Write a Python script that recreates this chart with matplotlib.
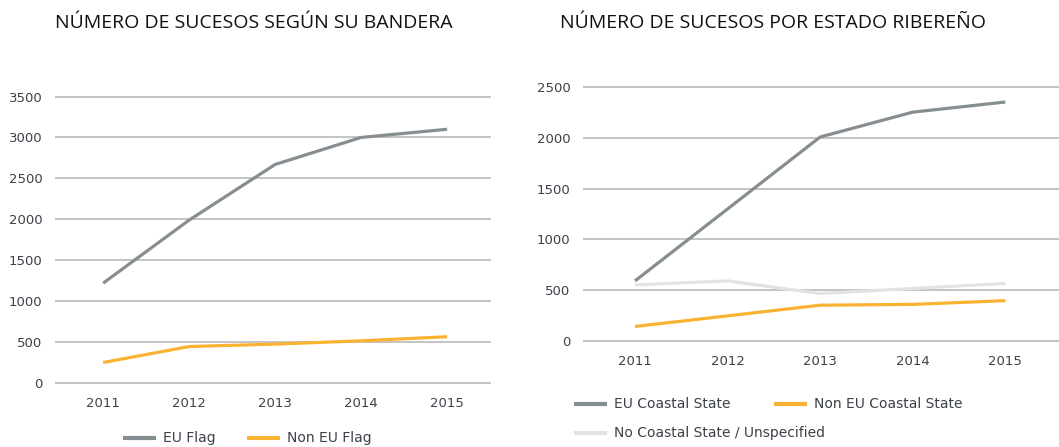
import matplotlib.pyplot as plt
from matplotlib.lines import Line2D

# datos
years = ["2011", "2012", "2013", "2014", "2015"]

eu_flag = [1220, 1990, 2670, 3000, 3100]
non_eu_flag = [250, 445, 475, 515, 565]

eu_coastal = [590, 1300, 2010, 2255, 2355]
non_eu_coastal = [140, 245, 350, 358, 395]
no_coastal = [550, 590, 465, 515, 565]

GRAY = "#868e92"
ORANGE = "#f9b231"
LIGHT = "#e3e3e3"
GRID = "#b4b4b4"
TICK = "#3c4048"
SMALL = ['DejaVu Sans']

plt.rcParams['font.family'] = ['Open Sans', 'DejaVu Sans']

W, H = 1059, 447
fig = plt.figure(figsize=(W / 100, H / 100), dpi=100)


def style_axis(ax, ymax, step):
    ax.set_yticks(range(0, ymax + 1, step))
    ax.yaxis.grid(True, color=GRID, linewidth=1.1)
    ax.set_axisbelow(True)
    for s in ax.spines.values():
        s.set_visible(False)
    ax.tick_params(axis='both', length=0, labelsize=9.5, labelcolor=TICK)
    ax.tick_params(axis='y', pad=9)
    ax.tick_params(axis='x', pad=9)
    ax.set_xticks(range(len(years)))
    ax.set_xticklabels(years)
    for lab in ax.get_xticklabels() + ax.get_yticklabels():
        lab.set_family(SMALL)


# grafico izquierdo
ax1 = fig.add_axes([55 / W, 1 - 384.6 / H, (491 - 55) / W, (384.6 - 94.9) / H])
x = range(len(years))
ax1.plot(x, eu_flag, color=GRAY, lw=2.3, solid_capstyle='butt')
ax1.plot(x, non_eu_flag, color=ORANGE, lw=2.3, solid_capstyle='butt')
ax1.set_xlim(-0.56, 4.51)
ax1.set_ylim(-20, 3520)
style_axis(ax1, 3500, 500)

# grafico derecho
ax2 = fig.add_axes([583 / W, 1 - 342.7 / H, (W - 583) / W, (342.7 - 85.3) / H])
ax2.plot(x, no_coastal, color=LIGHT, lw=2.3, solid_capstyle='butt')
ax2.plot(x, eu_coastal, color=GRAY, lw=2.3, solid_capstyle='butt')
ax2.plot(x, non_eu_coastal, color=ORANGE, lw=2.3, solid_capstyle='butt')
ax2.set_xlim(-0.562, 4.58)
ax2.set_ylim(-20, 2520)
style_axis(ax2, 2500, 500)

# titulos
fig.text(254 / W, 1 - 23 / H, "NÚMERO DE SUCESOS SEGÚN SU BANDERA",
         ha='center', va='center', fontsize=14, color='#111111')
fig.text(773 / W, 1 - 23 / H, "NÚMERO DE SUCESOS POR ESTADO RIBEREÑO",
         ha='center', va='center', fontsize=14, color='#111111')


def legend_item(x0, y0, color, label):
    fig.add_artist(Line2D([x0 / W, (x0 + 33) / W], [1 - y0 / H, 1 - y0 / H],
                          color=color, lw=3, solid_capstyle='butt'))
    fig.text((x0 + 40) / W, 1 - y0 / H, label, ha='left', va='center',
             fontsize=10, color=TICK, family=SMALL)


legend_item(123, 438, GRAY, "EU Flag")
legend_item(247, 438, ORANGE, "Non EU Flag")
legend_item(574, 404, GRAY, "EU Coastal State")
legend_item(774, 404, ORANGE, "Non EU Coastal State")
legend_item(574, 433, LIGHT, "No Coastal State / Unspecified")

fig.savefig("out.png", dpi=100)
